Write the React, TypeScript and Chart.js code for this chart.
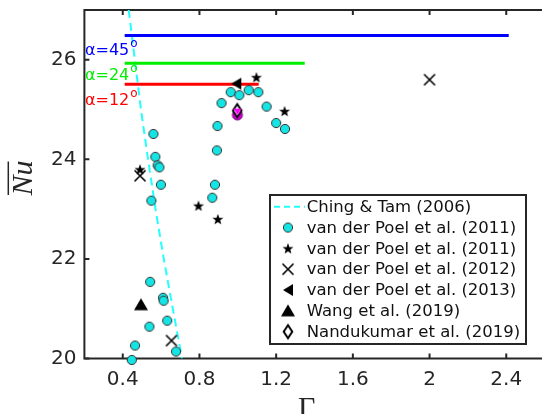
import React, { useEffect, useRef } from 'react';
import { Chart, registerables } from 'chart.js';

Chart.register(...registerables);

// ---------- data ----------
const xTickValues = [0.4, 0.8, 1.2, 1.6, 2.0, 2.4];
const yTickValues = [20, 22, 24, 26];

const chingTamGamma = [0.431, 0.463, 0.495, 0.532, 0.571, 0.614, 0.661, 0.709];
const chingTamNu = [27, 26, 25, 24, 23, 22, 21, 20];

const poel2011CircGamma = [
  0.560, 0.570, 0.582, 0.591, 0.599, 0.549,
  0.543, 0.610, 0.613, 0.632, 0.539, 0.464, 0.678, 0.447,
  0.963, 1.008, 1.057, 1.107, 0.915, 1.150, 1.200, 1.246, 0.894, 0.891, 0.881, 0.867,
];
const poel2011CircNu = [
  24.51, 24.05, 23.88, 23.84, 23.49, 23.17,
  21.54, 21.22, 21.16, 20.76, 20.64, 20.26, 20.14, 19.97,
  25.35, 25.29, 25.39, 25.35, 25.13, 25.06, 24.73, 24.61, 24.67, 24.18, 23.49, 23.23,
];

const poel2011StarGamma = [0.49, 0.795, 0.896, 1.097, 1.244];
const poel2011StarNu = [23.8, 23.07, 22.8, 25.65, 24.97];

const poel2012Gamma = [0.49, 0.654, 2.0];
const poel2012Nu = [23.67, 20.36, 25.6];

const poel2013Gamma = [0.992];
const poel2013Nu = [25.52];

const wangGamma = [0.495];
const wangNu = [21.08];

const nandGamma = [0.997];
const nandNu = [24.98];

const extraCircGamma = [0.998];
const extraCircNu = [24.89];
const extraTriGamma = [0.998];
const extraTriNu = [24.96];

const alpha45Gamma = [0.41, 2.413];
const alpha45Nu = [26.49, 26.49];
const alpha24Gamma = [0.41, 1.349];
const alpha24Nu = [25.93, 25.93];
const alpha12Gamma = [0.41, 1.109];
const alpha12Nu = [25.51, 25.51];

const alphaLabels = ['α=45', 'α=24', 'α=12'];
const alphaLabelNu = [26.1, 25.6, 25.1];

const legendLabels = [
  'Ching & Tam (2006)',
  'van der Poel et al. (2011)',
  'van der Poel et al. (2011)',
  'van der Poel et al. (2012)',
  'van der Poel et al. (2013)',
  'Wang et al. (2019)',
  'Nandukumar et al. (2019)',
];

const zip = (xs: number[], ys: number[]) => xs.map((x, i) => ({ x, y: ys[i] }));

// ---------- marker images ----------
function mk(size: number, draw: (ctx: CanvasRenderingContext2D, c: number) => void) {
  const cv = document.createElement('canvas');
  cv.width = size;
  cv.height = size;
  const ctx = cv.getContext('2d')!;
  draw(ctx, size / 2);
  return cv;
}

function makeMarkers() {
  const circle = mk(12, (ctx, c) => {
    ctx.beginPath();
    ctx.arc(c, c, 4.6, 0, Math.PI * 2);
    ctx.fillStyle = '#14e4e4';
    ctx.fill();
    ctx.lineWidth = 1;
    ctx.strokeStyle = '#333333';
    ctx.stroke();
  });
  const star = mk(14, (ctx, c) => {
    ctx.beginPath();
    for (let i = 0; i < 10; i++) {
      const r = i % 2 === 0 ? 5.8 : 2.4;
      const a = -Math.PI / 2 + (i * Math.PI) / 5;
      const px = c + r * Math.cos(a);
      const py = c + 0.6 + r * Math.sin(a);
      if (i === 0) ctx.moveTo(px, py);
      else ctx.lineTo(px, py);
    }
    ctx.closePath();
    ctx.fillStyle = '#000';
    ctx.fill();
  });
  const cross = mk(14, (ctx, c) => {
    ctx.beginPath();
    ctx.moveTo(c - 5.5, c - 5.5);
    ctx.lineTo(c + 5.5, c + 5.5);
    ctx.moveTo(c + 5.5, c - 5.5);
    ctx.lineTo(c - 5.5, c + 5.5);
    ctx.lineWidth = 1.6;
    ctx.strokeStyle = '#000';
    ctx.stroke();
  });
  const leftTri = mk(16, (ctx, c) => {
    ctx.beginPath();
    ctx.moveTo(c - 5, c);
    ctx.lineTo(c + 5, c - 6);
    ctx.lineTo(c + 5, c + 6);
    ctx.closePath();
    ctx.fillStyle = '#000';
    ctx.fill();
  });
  const upTri = mk(18, (ctx, c) => {
    ctx.beginPath();
    ctx.moveTo(c, c - 6.5);
    ctx.lineTo(c + 7, c + 5.5);
    ctx.lineTo(c - 7, c + 5.5);
    ctx.closePath();
    ctx.fillStyle = '#000';
    ctx.fill();
  });
  const diamond = mk(18, (ctx, c) => {
    ctx.beginPath();
    ctx.moveTo(c, c - 6.5);
    ctx.lineTo(c + 4.3, c);
    ctx.lineTo(c, c + 6.5);
    ctx.lineTo(c - 4.3, c);
    ctx.closePath();
    ctx.fillStyle = '#fff';
    ctx.fill();
    ctx.lineWidth = 2;
    ctx.strokeStyle = '#000';
    ctx.stroke();
  });
  const magCircle = mk(14, (ctx, c) => {
    ctx.beginPath();
    ctx.arc(c, c, 5, 0, Math.PI * 2);
    ctx.fillStyle = '#d000d0';
    ctx.fill();
    ctx.lineWidth = 1;
    ctx.strokeStyle = '#700070';
    ctx.stroke();
  });
  const magTri = mk(12, (ctx, c) => {
    ctx.beginPath();
    ctx.moveTo(c - 4, c - 3);
    ctx.lineTo(c + 4, c - 3);
    ctx.lineTo(c, c + 3.5);
    ctx.closePath();
    ctx.fillStyle = '#ff00ff';
    ctx.fill();
  });
  return { circle, star, cross, leftTri, upTri, diamond, magCircle, magTri };
}

const FRAME = '#262626';

export default function App() {
  const ref = useRef<HTMLCanvasElement>(null);

  useEffect(() => {
    if (!ref.current) return;
    const m = makeMarkers();

    const scatter = (label: string, xs: number[], ys: number[], img: HTMLCanvasElement, order: number) => ({
      label,
      data: zip(xs, ys),
      pointStyle: img,
      pointRadius: 5,
      showLine: false,
      clip: false as any,
      order,
    });
    const hline = (xs: number[], ys: number[], color: string) => ({
      label: '',
      data: zip(xs, ys),
      showLine: true,
      borderColor: color,
      borderWidth: 3,
      pointRadius: 0,
      order: 20,
    });

    const datasets: any[] = [
      {
        label: legendLabels[0],
        data: zip(chingTamGamma, chingTamNu),
        showLine: true,
        borderColor: '#22ffff',
        borderWidth: 2,
        borderDash: [8, 5],
        pointRadius: 0,
        order: 30,
      },
      hline(alpha45Gamma, alpha45Nu, '#0000ff'),
      hline(alpha24Gamma, alpha24Nu, '#00ee00'),
      hline(alpha12Gamma, alpha12Nu, '#ff0000'),
      scatter(legendLabels[1], poel2011CircGamma, poel2011CircNu, m.circle, 10),
      scatter(legendLabels[2], poel2011StarGamma, poel2011StarNu, m.star, 9),
      scatter(legendLabels[3], poel2012Gamma, poel2012Nu, m.cross, 8),
      scatter(legendLabels[4], poel2013Gamma, poel2013Nu, m.leftTri, 7),
      scatter(legendLabels[5], wangGamma, wangNu, m.upTri, 6),
      scatter('extra circle', extraCircGamma, extraCircNu, m.magCircle, 5),
      scatter(legendLabels[6], nandGamma, nandNu, m.diamond, 4),
      scatter('extra triangle', extraTriGamma, extraTriNu, m.magTri, 3),
    ];

    const legendIcons: (HTMLCanvasElement | null)[] = [null, m.circle, m.star, m.cross, m.leftTri, m.upTri, m.diamond];

    const decor = {
      id: 'decor',
      beforeDatasetsDraw(chart: any) {
        const { ctx, chartArea: a, scales } = chart;
        ctx.save();
        ctx.strokeStyle = FRAME;
        ctx.lineWidth = 2;
        ctx.beginPath();
        ctx.moveTo(chart.width + 2, a.top);
        ctx.lineTo(a.left, a.top);
        ctx.lineTo(a.left, a.bottom);
        ctx.lineTo(chart.width + 2, a.bottom);
        ctx.stroke();
        ctx.beginPath();
        for (const v of xTickValues) {
          const px = scales.x.getPixelForValue(v);
          ctx.moveTo(px, a.bottom);
          ctx.lineTo(px, a.bottom - 5);
          ctx.moveTo(px, a.top);
          ctx.lineTo(px, a.top + 5);
        }
        for (const v of yTickValues) {
          const py = scales.y.getPixelForValue(v);
          ctx.moveTo(a.left, py);
          ctx.lineTo(a.left + 5, py);
        }
        ctx.stroke();
        ctx.restore();
      },
      afterDraw(chart: any) {
        const { ctx, scales } = chart;
        ctx.save();
        // alpha annotations
        const colors = ['#0000ff', '#00ee00', '#ff0000'];
        alphaLabels.forEach((t, i) => {
          const px = scales.x.getPixelForValue(0.203);
          const py = scales.y.getPixelForValue(alphaLabelNu[i]);
          ctx.fillStyle = colors[i];
          ctx.font = '16px "DejaVu Sans"';
          ctx.textBaseline = 'alphabetic';
          ctx.textAlign = 'left';
          ctx.fillText(t, px, py);
          const w = ctx.measureText(t).width;
          ctx.font = '12px "DejaVu Sans"';
          ctx.fillText('o', px + w + 1, py - 8);
        });

        // legend box
        const bx = 270, by = 195, bw = 256, bh = 149;
        ctx.fillStyle = '#ffffff';
        ctx.fillRect(bx, by, bw, bh);
        ctx.strokeStyle = FRAME;
        ctx.lineWidth = 2;
        ctx.strokeRect(bx, by, bw, bh);
        ctx.font = '16.5px "DejaVu Sans"';
        ctx.textBaseline = 'middle';
        ctx.textAlign = 'left';
        legendLabels.forEach((t, i) => {
          const cy = 206.7 + i * 20.83;
          const icon = legendIcons[i];
          if (icon) {
            ctx.drawImage(icon, 288 - icon.width / 2, cy - icon.height / 2);
          } else {
            ctx.save();
            ctx.strokeStyle = '#22ffff';
            ctx.lineWidth = 2;
            ctx.setLineDash([6, 4]);
            ctx.beginPath();
            ctx.moveTo(274, cy);
            ctx.lineTo(305, cy);
            ctx.stroke();
            ctx.restore();
          }
          ctx.fillStyle = '#111111';
          ctx.fillText(t, 306.7, cy + 1);
        });

        // axis titles
        ctx.fillStyle = '#262626';
        ctx.font = '30px "Liberation Serif"';
        ctx.textAlign = 'center';
        ctx.textBaseline = 'alphabetic';
        ctx.fillText('Γ', 306.7, 417);

        ctx.save();
        ctx.translate(32, 178);
        ctx.rotate(-Math.PI / 2);
        ctx.font = 'italic 30px "Liberation Serif"';
        ctx.fillText('Nu', 0, 0);
        ctx.restore();
        ctx.strokeStyle = '#262626';
        ctx.lineWidth = 1.5;
        ctx.beginPath();
        ctx.moveTo(8.3, 161.5);
        ctx.lineTo(8.3, 195);
        ctx.stroke();
        ctx.restore();
      },
    };

    const tickFont = { family: '"DejaVu Sans"', size: 20 };
    const chart = new Chart(ref.current, {
      type: 'scatter',
      data: { datasets },
      options: {
        animation: false,
        responsive: false,
        maintainAspectRatio: false,
        layout: { padding: { top: 10, right: 0, left: 0, bottom: 0 } },
        plugins: { legend: { display: false }, tooltip: { enabled: false } },
        scales: {
          x: {
            type: 'linear',
            min: 0.2,
            max: 0.2 + (542 - 84.4) / 194.3,
            grid: { display: false, drawTicks: false },
            border: { display: false },
            ticks: {
              font: tickFont,
              color: '#262626',
              padding: 9,
              maxRotation: 0,
              autoSkip: false,
              callback: (v: any) => String(Number(v)),
            },
            afterBuildTicks: (s: any) => {
              s.ticks = xTickValues.map((v) => ({ value: v }));
            },
            afterFit: (s: any) => {
              s.height = 414 - 358.5;
              s.paddingLeft = 0;
              s.paddingRight = 0;
            },
          },
          y: {
            type: 'linear',
            min: 20,
            max: 27,
            grid: { display: false, drawTicks: false },
            border: { display: false },
            ticks: {
              font: tickFont,
              color: '#262626',
              padding: 8,
              autoSkip: false,
              callback: (v: any) => String(Number(v)),
            },
            afterBuildTicks: (s: any) => {
              s.ticks = yTickValues.map((v) => ({ value: v }));
            },
            afterFit: (s: any) => {
              s.width = 84.4;
              s.paddingTop = 0;
              s.paddingBottom = 0;
            },
          },
        },
      },
      plugins: [decor],
    });
    return () => chart.destroy();
  }, []);

  return (
    <div style={{ position: 'fixed', left: 0, top: 0, width: 542, height: 414, overflow: 'hidden', background: '#fff' }}>
      <canvas ref={ref} width={542} height={414} style={{ display: 'block', width: 542, height: 414 }} />
    </div>
  );
}
